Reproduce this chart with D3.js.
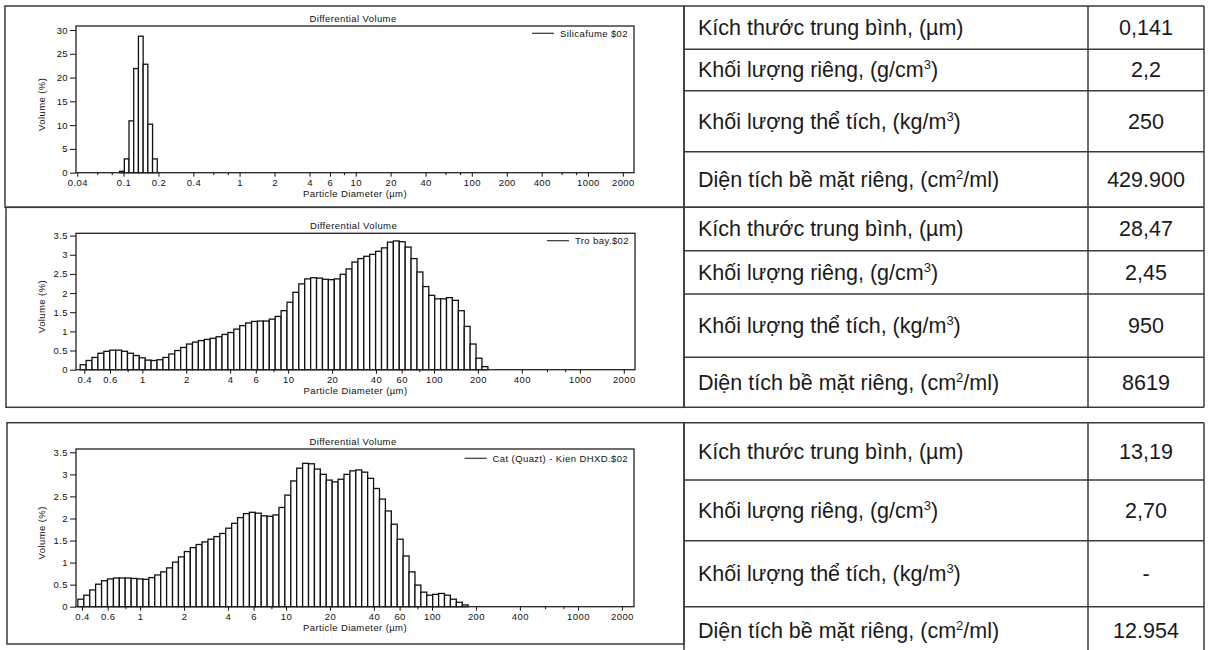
<!DOCTYPE html>
<html><head><meta charset="utf-8">
<script src="https://cdn.jsdelivr.net/npm/d3@7"></script>
<style>
body{margin:0;background:#fff}
svg{display:block;background:#fff}
.ct{font-family:"Liberation Sans",Arial,sans-serif;font-size:9.5px;letter-spacing:0.4px;fill:#111}
.tb{font-family:"Liberation Sans",Arial,sans-serif;font-size:21.5px;fill:#1a1a1a}
</style></head><body>
<svg id="fig" width="1212" height="650"></svg>
<script>
// ---------------- DATA ----------------
// LS particle-size channel edges (µm)
const lsChannelEdges = [0.375,0.412,0.452,0.496,0.545,0.598,0.657,0.721,0.791,0.869,0.953,1.047,1.149,1.261,1.385,1.520,1.669,1.832,2.011,2.208,2.423,2.660,2.920,3.206,3.519,3.863,4.241,4.656,5.111,5.611,6.159,6.761,7.422,8.148,8.944,9.819,10.78,11.83,12.99,14.26,15.65,17.18,18.86,20.71,22.73,24.95,27.39,30.07,33.01,36.24,39.78,43.67,47.94,52.63,57.77,63.42,69.62,76.43,83.90,92.10,101.1,111.0,121.8,133.7,146.8,161.2,176.8,194.2,213.2,234.1,256.9];
const pidsChannelEdges = [0.0926,0.1017,0.1116,0.1225,0.1345,0.1477,0.1621,0.1780,0.1954];

// Differential volume (%) per channel
const silicafumeVolume = [0.3,2.9,10.9,21.9,28.7,22.8,10.2,2.9];
const troBayVolume = [0.13,0.24,0.32,0.43,0.48,0.51,0.51,0.48,0.43,0.37,0.31,0.25,0.24,0.26,0.32,0.41,0.50,0.58,0.67,0.72,0.76,0.79,0.82,0.86,0.92,0.97,1.06,1.15,1.22,1.26,1.27,1.27,1.32,1.39,1.54,1.76,2.02,2.24,2.37,2.40,2.39,2.36,2.35,2.37,2.49,2.63,2.81,2.90,2.96,3.01,3.09,3.18,3.33,3.36,3.34,3.20,2.90,2.55,2.17,1.94,1.85,1.85,1.88,1.81,1.54,1.13,0.67,0.30,0.08];
const catVolume = [0.17,0.26,0.38,0.51,0.59,0.63,0.65,0.65,0.65,0.64,0.63,0.62,0.66,0.72,0.79,0.88,1.01,1.13,1.25,1.34,1.41,1.47,1.53,1.59,1.66,1.78,1.89,2.02,2.11,2.14,2.12,2.06,2.05,2.08,2.25,2.53,2.85,3.14,3.25,3.24,3.12,3.00,2.87,2.83,2.89,3.00,3.08,3.10,3.05,2.91,2.68,2.44,2.17,1.87,1.53,1.15,0.79,0.49,0.33,0.26,0.28,0.30,0.26,0.17,0.10,0.04];

const xTicksFine = [0.04,0.1,0.2,0.4,1,2,4,6,10,20,40,100,200,400,1000,2000];
const xTicksCoarse = [0.4,0.6,1,2,4,6,10,20,40,60,100,200,400,1000,2000];
const xMinorFine = [0.06,0.08,0.6,0.8,8,60,80,600,800];
const xMinorCoarse = [0.8,8,80,600,800];
const yTicksSilica = [0,5,10,15,20,25,30];
const yTicksVolume = [0,0.5,1,1.5,2,2.5,3,3.5];

const seriesNames = ["Silicafume $02","Tro bay.$02","Cat (Quazt) - Kien DHXD.$02"];
const chartTitle = "Differential Volume";
const xAxisTitle = "Particle Diameter (µm)";
const yAxisTitle = "Volume (%)";

const propertyLabels = [
  {pre:"Kích thước trung bình, (µm)", sup:"", post:""},
  {pre:"Khối lượng riêng, (g/cm", sup:"3", post:")"},
  {pre:"Khối lượng thể tích, (kg/m", sup:"3", post:")"},
  {pre:"Diện tích bề mặt riêng, (cm", sup:"2", post:"/ml)"}
];
const silicafumeProps = ["0,141","2,2","250","429.900"];
const troBayProps = ["28,47","2,45","950","8619"];
const catProps = ["13,19","2,70","-","12.954"];

// ---------------- LAYOUT ----------------
const svg = d3.select("#fig");
const lineCol = "#3a3a3a";

const panels = [
  {name:seriesNames[0], edges:pidsChannelEdges, values:silicafumeVolume, props:silicafumeProps,
   xDomain:[0.039,2495], x0:76, x1:634, yTop:26, yBase:172.7, yMax:30.84,
   xTicks:xTicksFine, xMinor:xMinorFine, yTicks:yTicksSilica,
   cell:[5,6,684,207.3], rows:[6,49.3,90.7,151.7,207.3], legDy:7.3},
  {name:seriesNames[1], edges:lsChannelEdges, values:troBayVolume, props:troBayProps,
   xDomain:[0.351,2388], x0:76, x1:635, yTop:233.3, yBase:369.7, yMax:3.56,
   xTicks:xTicksCoarse, xMinor:xMinorCoarse, yTicks:yTicksVolume,
   cell:[6,207.3,684,407.3], rows:[207.3,250.7,294,357.3,407.3], legDy:7.4},
  {name:seriesNames[2], edges:lsChannelEdges, values:catVolume, props:catProps,
   xDomain:[0.364,2420], x0:76, x1:634, yTop:449, yBase:606.7, yMax:3.575,
   xTicks:xTicksCoarse, xMinor:xMinorCoarse, yTicks:yTicksVolume,
   cell:[7,422.7,684,644], rows:[422.7,480,540.7,606.7,654], legDy:9.3}
];

const divX = 1088, rightX = 1204, labelX = 698;

panels.forEach(p => {
  const g = svg.append("g");
  const x = d3.scaleLog().domain(p.xDomain).range([p.x0, p.x1]);
  const y = d3.scaleLinear().domain([0, p.yMax]).range([p.yBase, p.yTop]);

  // chart cell border
  const [cx0, cy0, cx1, cy1] = p.cell;
  g.append("rect").attr("x",cx0).attr("y",cy0).attr("width",cx1-cx0).attr("height",cy1-cy0)
    .attr("fill","none").attr("stroke",lineCol).attr("stroke-width",1.5);

  // bars
  const bars = p.values.map((v,i) => ({lo:p.edges[i], hi:p.edges[i+1], v}));
  g.append("g").selectAll("rect").data(bars).join("rect")
    .attr("x", d => x(d.lo)).attr("width", d => x(d.hi) - x(d.lo))
    .attr("y", d => y(d.v)).attr("height", d => y(0) - y(d.v))
    .attr("fill","#fff").attr("stroke","#111").attr("stroke-width",1.3);

  // plot frame
  g.append("rect").attr("x",p.x0).attr("y",p.yTop).attr("width",p.x1-p.x0).attr("height",p.yBase-p.yTop)
    .attr("fill","none").attr("stroke","#222").attr("stroke-width",1.3);

  // axes
  const xa = g.append("g").attr("transform",`translate(0,${p.yBase})`)
    .call(d3.axisBottom(x).tickValues(p.xTicks).tickFormat(d => String(d)).tickSize(4).tickPadding(3));
  const ya = g.append("g").attr("transform",`translate(${p.x0},0)`)
    .call(d3.axisLeft(y).tickValues(p.yTicks).tickFormat(d => String(d)).tickSize(6).tickPadding(2));
  [xa, ya].forEach(a => {
    a.select(".domain").remove();
    a.selectAll("line").attr("stroke","#111").attr("stroke-width",1);
    a.selectAll("text").attr("class","ct").attr("font-size",null).attr("font-family",null).attr("fill",null);
  });
  g.append("g").selectAll("line").data(p.xMinor).join("line")
    .attr("x1", d => x(d)).attr("x2", d => x(d)).attr("y1", p.yBase).attr("y2", p.yBase + 2.5)
    .attr("stroke","#111").attr("stroke-width",1);

  const midX = (p.x0 + p.x1) / 2;
  g.append("text").attr("class","ct").attr("x",midX-2).attr("y",p.yTop-4.5)
    .attr("text-anchor","middle").text(chartTitle);
  g.append("text").attr("class","ct").attr("x",midX).attr("y",p.yBase+24)
    .attr("text-anchor","middle").text(xAxisTitle);
  g.append("text").attr("class","ct")
    .attr("transform",`translate(45,${(p.yTop+p.yBase)/2+5}) rotate(-90)`)
    .attr("text-anchor","middle").text(yAxisTitle);

  // legend
  const lt = g.append("text").attr("class","ct").attr("x",p.x1-6).attr("y",p.yTop+p.legDy)
    .attr("dy","0.35em").attr("text-anchor","end").text(p.name);
  const bb = lt.node().getBBox();
  g.append("line").attr("x1",bb.x-28).attr("x2",bb.x-6)
    .attr("y1",p.yTop+p.legDy).attr("y2",p.yTop+p.legDy)
    .attr("stroke","#333").attr("stroke-width",1.2);

  // table
  const r = p.rows;
  r.forEach(ry => g.append("line").attr("x1",684).attr("x2",rightX).attr("y1",ry).attr("y2",ry)
    .attr("stroke",lineCol).attr("stroke-width",1.5));
  [684, divX, rightX].forEach(vx => g.append("line").attr("x1",vx).attr("x2",vx)
    .attr("y1",r[0]).attr("y2",r[4]).attr("stroke",lineCol).attr("stroke-width",1.5));

  propertyLabels.forEach((lab, i) => {
    const cy = (r[i] + r[i+1]) / 2 + 7.4;
    const t = g.append("text").attr("class","tb").attr("x",labelX).attr("y",cy);
    t.append("tspan").text(lab.pre);
    if (lab.sup) {
      t.append("tspan").attr("font-size","13px").attr("dy",-8).text(lab.sup);
      t.append("tspan").attr("dy",8).text(lab.post);
    }
    g.append("text").attr("class","tb").attr("x",(divX+rightX)/2).attr("y",cy)
      .attr("text-anchor","middle").text(p.props[i]);
  });
});
</script>
</body></html>
